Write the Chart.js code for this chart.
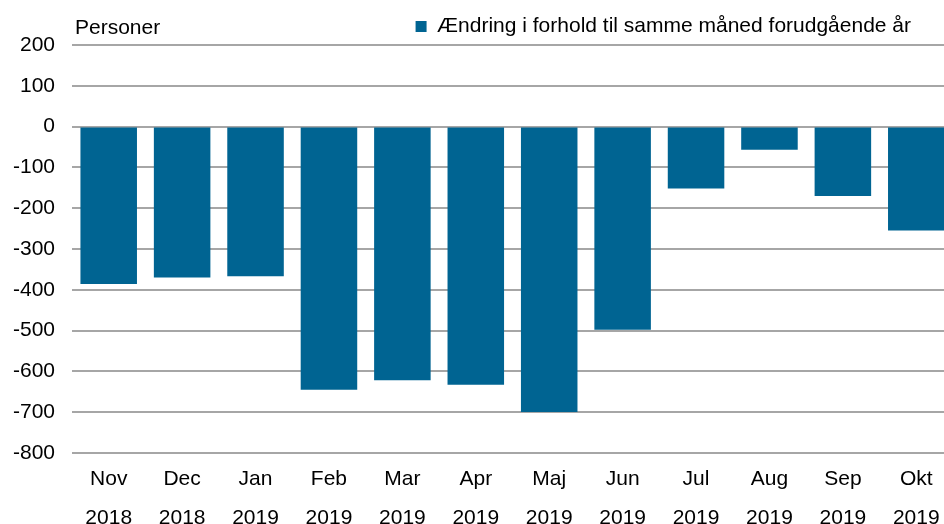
<!DOCTYPE html>
<html>
<head>
<meta charset="utf-8">
<script src="https://cdn.jsdelivr.net/npm/chart.js@4/dist/chart.umd.min.js"></script>
<style>
  html, body { margin: 0; padding: 0; background: #fff; overflow: hidden; }
  /* plot runs a few pixels past the right and bottom edge, as in the source */
  #wrap { width: 953px; height: 545px; position: relative; }
</style>
</head>
<body>
<div id="wrap"><canvas id="chart"></canvas></div>
<script>
// Data
const months = ["Nov", "Dec", "Jan", "Feb", "Mar", "Apr", "Maj", "Jun", "Jul", "Aug", "Sep", "Okt"];
const years = ["2018", "2018", "2019", "2019", "2019", "2019", "2019", "2019", "2019", "2019", "2019", "2019"];
const change = [-386, -370, -367, -645, -622, -633, -700, -498, -152, -57, -170, -255];
const seriesLabel = "Ændring i forhold til samme måned forudgående år";
const yUnit = "Personer";

const FONT = "'Liberation Sans', Arial, sans-serif";
const FS = 21;
const BAR = "#006492";

// "Personer" over the top-left of the plot, legend nudged to where the source has it
const unitLabel = {
  id: "unitLabel",
  afterLayout(chart) {
    const lg = chart.legend;
    if (!lg) return;
    lg.right = 925;
    lg.top += 2;
    lg.bottom += 2;
  },
  afterDraw(chart) {
    const ctx = chart.ctx;
    ctx.save();
    ctx.font = FS + "px " + FONT;
    ctx.fillStyle = "#000";
    ctx.textBaseline = "middle";
    ctx.textAlign = "left";
    ctx.fillText(yUnit, chart.chartArea.left + 3, 28);
    ctx.restore();
  }
};

new Chart(document.getElementById("chart").getContext("2d"), {
  type: "bar",
  data: {
    labels: months.map((m, i) => [m, years[i]]),
    datasets: [{
      label: seriesLabel,
      data: change,
      backgroundColor: BAR,
      borderWidth: 0,
      categoryPercentage: 1,
      barPercentage: 0.77,
    }],
  },
  options: {
    responsive: true,
    maintainAspectRatio: false,
    animation: false,
    scales: {
      x: {
        grid: { display: false, drawTicks: false, tickLength: 0 },
        border: { display: false },
        ticks: {
          color: "#000",
          font: { family: FONT, size: FS, lineHeight: 1.86 },
          padding: 7,
          maxRotation: 0,
          autoSkip: false,
        },
      },
      y: {
        min: -800,
        max: 200,
        afterFit(scale) { scale.width = 72; },
        grid: { color: "#a6a6a6", lineWidth: 2, drawTicks: false },
        border: { display: false },
        ticks: {
          stepSize: 100,
          color: "#000",
          font: { family: FONT, size: FS },
          padding: 17,
        },
      },
    },
    plugins: {
      legend: {
        position: "top",
        align: "end",
        labels: {
          color: "#000",
          font: { family: FONT, size: FS },
          boxWidth: 11,
          boxHeight: 11,
          padding: 14,
        },
      },
      tooltip: { enabled: false },
    },
  },
  plugins: [unitLabel],
});
</script>
</body>
</html>
